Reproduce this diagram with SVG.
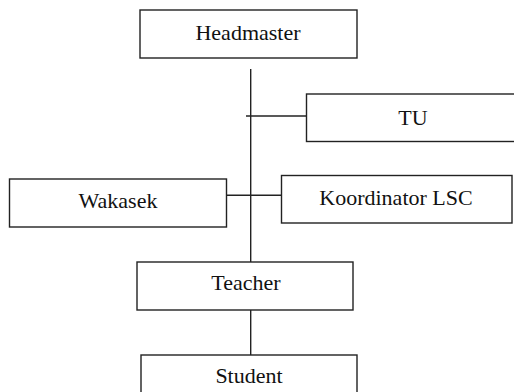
<svg xmlns="http://www.w3.org/2000/svg" width="514" height="392" viewBox="0 0 514 392">
<style>
.box{fill:#fff;stroke:#222;stroke-width:1.4}
.lbl{font-family:'Liberation Serif','DejaVu Serif',serif;font-size:22px;fill:#111;text-anchor:middle}
.ln{stroke:#222;stroke-width:1.4;fill:none}
</style>
<rect width="514" height="392" fill="#fff"/>
<g id="connectors">
<line class="ln" x1="250.7" y1="69" x2="250.7" y2="262"/>
<line class="ln" x1="246" y1="116" x2="306.5" y2="116"/>
<line class="ln" x1="222.7" y1="195.3" x2="285" y2="195.3"/>
<line class="ln" x1="250.7" y1="310" x2="250.7" y2="355"/>
</g>
<g id="headmaster"><rect class="box" x="140" y="10" width="217" height="48"/><text class="lbl" x="248" y="40">Headmaster</text></g>
<g id="tu"><rect class="box" x="306.5" y="94" width="214" height="47.5"/><text class="lbl" x="413" y="125">TU</text></g>
<g id="wakasek"><rect class="box" x="9.5" y="179" width="217" height="48"/><text class="lbl" x="118" y="208">Wakasek</text></g>
<g id="koordinator"><rect class="box" x="281.5" y="175.5" width="230.5" height="47.5"/><text class="lbl" x="396" y="205">Koordinator LSC</text></g>
<g id="teacher"><rect class="box" x="137" y="262" width="216" height="48"/><text class="lbl" x="246" y="290">Teacher</text></g>
<g id="student"><rect class="box" x="141" y="355" width="216" height="48"/><text class="lbl" x="249" y="383">Student</text></g>
</svg>
